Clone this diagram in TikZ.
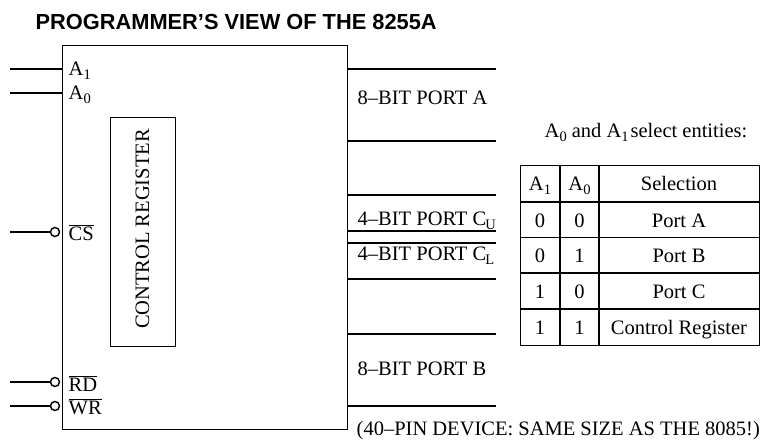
\documentclass[tikz,border=0pt]{standalone}
\usepackage{fontspec}
\setmainfont{Liberation Serif}
\newfontfamily\titlefont{Liberation Sans}
\newcommand\sbs[1]{\raisebox{-4pt}{\fontsize{14.5}{16}\selectfont #1}}
\begin{document}
\begin{tikzpicture}[x=1pt,y=-1pt,line width=1.4pt,
  lbl/.style={inner sep=0pt,anchor=base west,font=\fontsize{20.5}{24}\selectfont},
  cell/.style={inner sep=0pt,anchor=base,font=\fontsize{20.5}{24}\selectfont},
  bubble/.style={circle,draw,fill=white,minimum size=9pt,inner sep=0pt,line width=1.4pt}]
\useasboundingbox (0,0) rectangle (766,441);
% title
\node[inner sep=0pt,anchor=base west,font=\titlefont\bfseries\fontsize{21.8}{25}\selectfont] (title) at (35,29.5) {PROGRAMMER’S VIEW OF THE 8255A};
% chip
\node[draw,anchor=north west,minimum width=285pt,minimum height=384pt,inner sep=0pt] (chip) at (62,45) {};
\node[draw,anchor=north west,minimum width=65pt,minimum height=229pt,inner sep=0pt] (ctrl) at (110,117) {};
\node[inner sep=0pt,rotate=90,font=\fontsize{20.5}{24}\selectfont] (ctrltxt) at (142.5,229) {CONTROL REGISTER};
% left pins
\coordinate (a1in) at (10,69);
\coordinate (a0in) at (10,93);
\coordinate (csin) at (10,232);
\coordinate (rdin) at (10,382);
\coordinate (wrin) at (10,406);
\draw (a1in) -- (a1in -| chip.west);
\draw (a0in) -- (a0in -| chip.west);
\node[bubble] (csb) at (55,232) {};
\node[bubble] (rdb) at (55,382) {};
\node[bubble] (wrb) at (55,406) {};
\draw (csin) -- (csb.west);
\draw (rdin) -- (rdb.west);
\draw (wrin) -- (wrb.west);
\node[lbl] (a1l) at (68,76) {A\sbs{1}};
\node[lbl] (a0l) at (68,100) {A\sbs{0}};
\node[lbl] (csl) at (68,240) {$\overline{\mbox{CS}}$};
\node[lbl] (rdl) at (68,391) {$\overline{\mbox{RD}}$};
\node[lbl] (wrl) at (68,414) {$\overline{\mbox{WR}}$};
% right ports
\foreach \n/\y in {pa1/69,pa2/141,pcu1/195,pcu2/231,pcl1/243,pcl2/279,pb1/334,pb2/406}{
  \coordinate (\n) at (496,\y);
  \draw (\n -| chip.east) -- (\n);
}
\node[lbl] (pal) at (357,105) {8--BIT PORT A};
\node[lbl] (pcul) at (357,225) {4--BIT PORT C\kern-1pt\sbs{U}};
\node[lbl] (pcll) at (357,260) {4--BIT PORT C\kern-1pt\sbs{L}};
\node[lbl] (pbl) at (357,375) {8--BIT PORT B};
\node[lbl] (note) at (356,435) {(40--PIN DEVICE: SAME SIZE AS THE 8085!)};
% table
\node[lbl] (sel) at (544,138) {A\sbs{0} and A\sbs{1}\kern2pt select entities:};
\node[draw,anchor=north west,minimum width=239pt,minimum height=180pt,inner sep=0pt] (tab) at (520,165) {};
\foreach \y in {202,237.5,273,309}{ \draw (tab.west |- 0,\y) -- (tab.east |- 0,\y); }
\foreach \x in {560,599}{ \draw (\x,0 |- tab.north) -- (\x,0 |- tab.south); }
\node[cell] (h1) at (540,190) {A\sbs{1}};
\node[cell] (h2) at (579.5,190) {A\sbs{0}};
\node[cell] (h3) at (679,190) {Selection};
\foreach \r/\y/\a/\b/\s in {1/227/0/0/Port A,2/262/0/1/Port B,3/298/1/0/Port C,4/334/1/1/Control Register}{
  \node[cell] (r\r a) at (540,\y) {\a};
  \node[cell] (r\r b) at (579.5,\y) {\b};
  \node[cell] (r\r s) at (679,\y) {\s};
}
\end{tikzpicture}
\end{document}
